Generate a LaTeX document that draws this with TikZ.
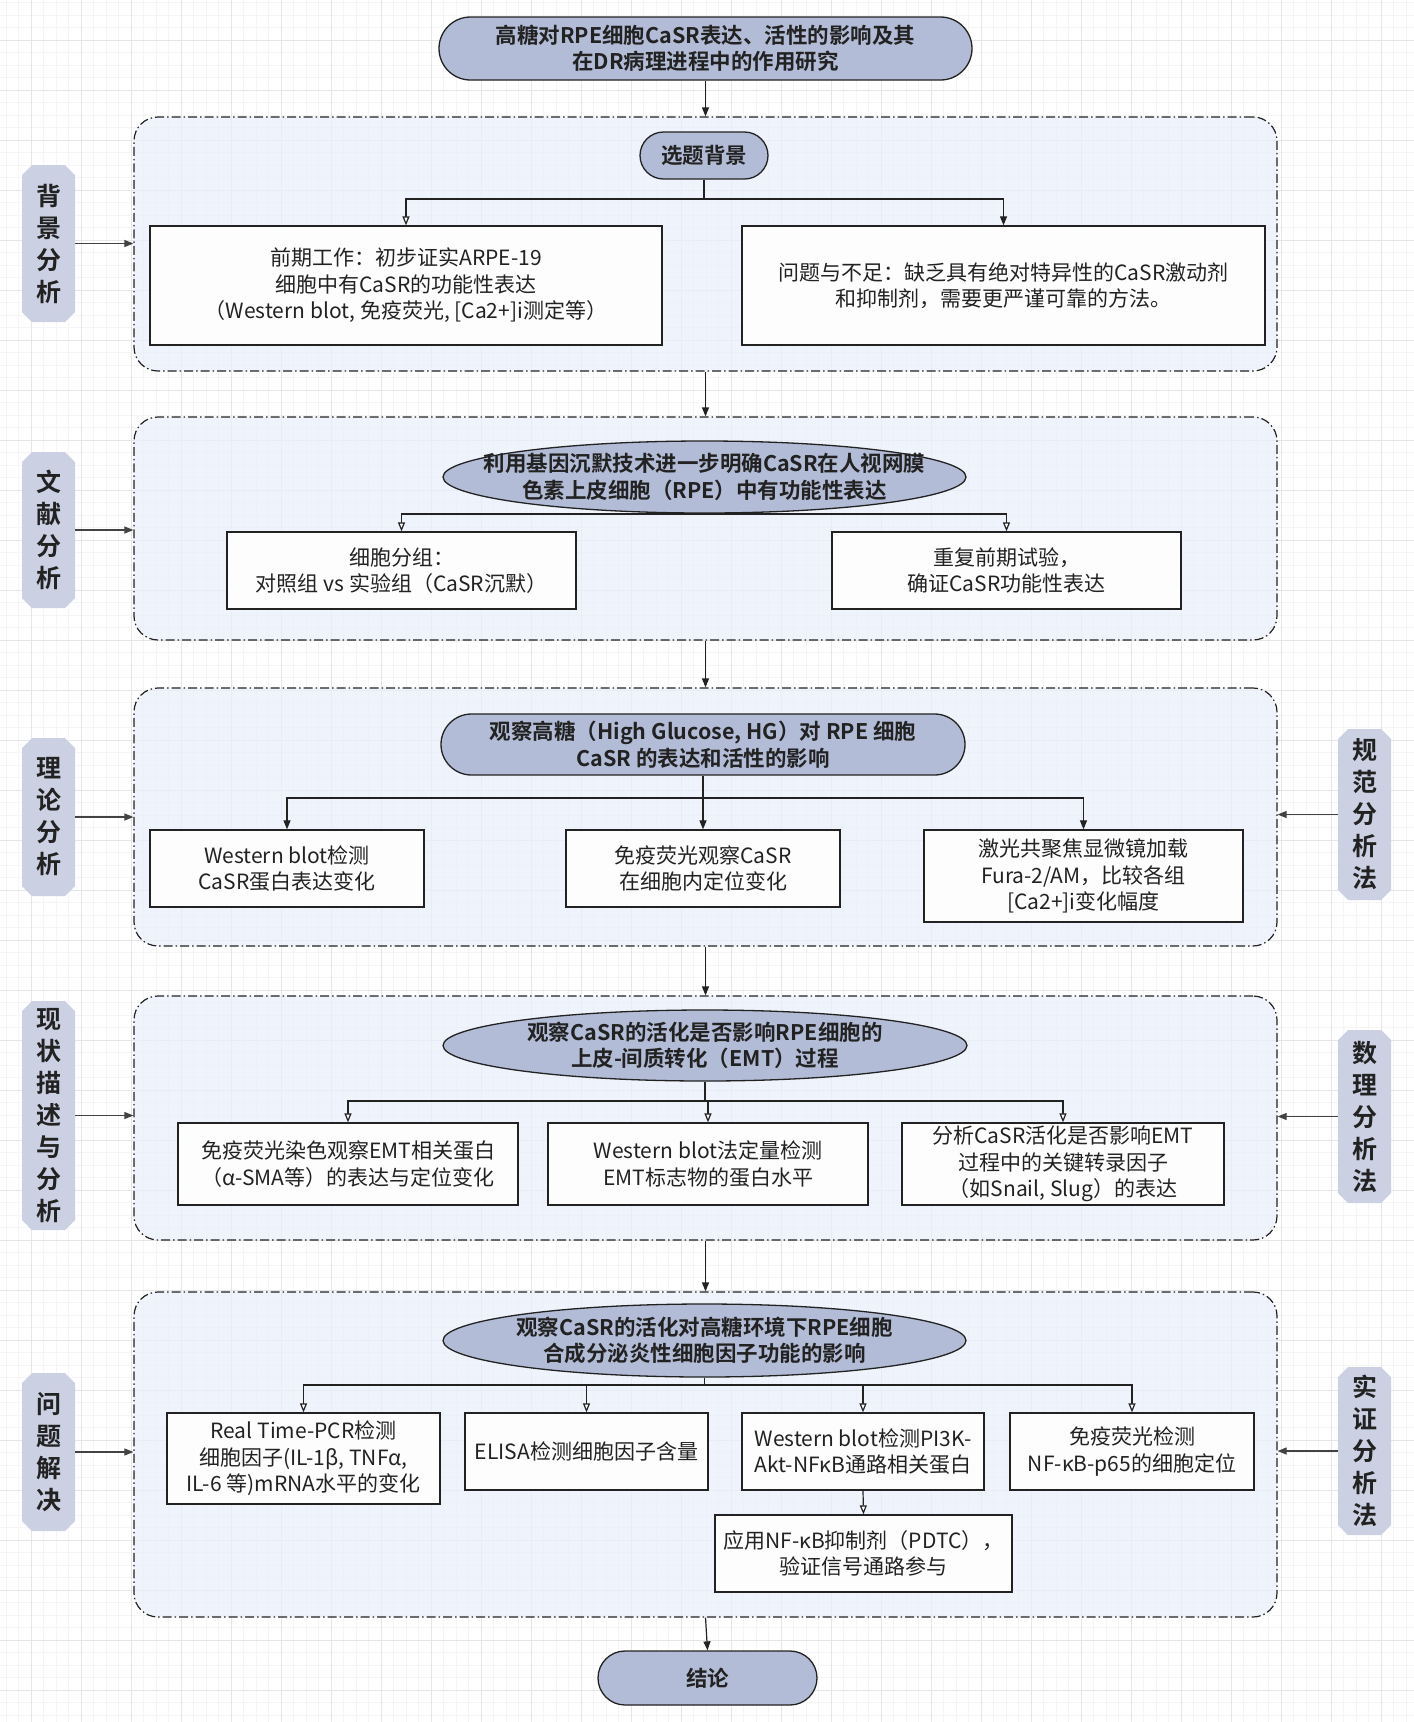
\documentclass[tikz,border=0pt]{standalone}
\usepackage{fontspec}
\setmainfont{Noto Sans CJK SC}[BoldFont={Noto Sans CJK SC Bold}]
\usetikzlibrary{shapes.misc,shapes.geometric,arrows.meta}
\definecolor{pillc}{HTML}{B3BCD6}
\definecolor{labc}{HTML}{CBD1E2}
\definecolor{secc}{HTML}{E9EFFC}
\definecolor{linec}{HTML}{222222}
\definecolor{gridmaj}{HTML}{E6E6E6}
\definecolor{gridmin}{HTML}{F5F5F5}
\begin{document}
\begin{tikzpicture}[x=1pt,y=-1pt,
  sec/.style={draw=linec, line width=1.2pt, dash pattern=on 9pt off 3pt on 1.5pt off 3pt,
     rounded corners=24pt, fill=secc, fill opacity=0.7, draw opacity=1, inner sep=0pt},
  box/.style={draw=linec, line width=1.3pt, fill=white, fill opacity=0.9, text opacity=1,
     align=center, inner sep=0pt, text=linec, font=\fontsize{21}{26.5}\selectfont},
  pill/.style={rounded rectangle, draw=linec, line width=1.3pt, fill=pillc, inner sep=0pt},
  ell/.style={ellipse, draw=linec, line width=1.3pt, fill=pillc, inner sep=0pt},
  ttl/.style={align=center, text=linec, inner sep=0pt, font=\bfseries\fontsize{21.5}{26.5}\selectfont},
  lab/.style={chamfered rectangle, chamfered rectangle xsep=5pt, chamfered rectangle ysep=5pt,
     fill=labc, draw=none, align=center, inner sep=0pt, text=linec,
     font=\bfseries\fontsize{25}{32}\selectfont, minimum width=53pt},
  arr/.style={draw=linec, line width=1.2pt, -{Triangle[length=9pt,width=7pt]}},
  oarr/.style={draw=linec, line width=1.2pt, -{Triangle[open,length=9pt,width=7pt,fill=white]}},
  larr/.style={draw=linec!85, line width=1.1pt, -{Triangle[length=9pt,width=7pt]}},
  ln/.style={draw=linec, line width=1.2pt}
]
\useasboundingbox (0,0) rectangle (1414,1722);
\fill[white] (0,0) rectangle (1414,1722);
% grid
\foreach \i in {0,...,113} {\draw[gridmin, line width=0.8pt] ({6+12.5*\i},0) -- ({6+12.5*\i},1722);}
\foreach \i in {0,...,138} {\draw[gridmin, line width=0.8pt] (0,{2.5+12.5*\i}) -- (1414,{2.5+12.5*\i});}
\foreach \i in {0,...,27} {\draw[gridmaj, line width=1pt] ({31+50*\i},0) -- ({31+50*\i},1722);}
\foreach \i in {0,...,33} {\draw[gridmaj, line width=1pt] (0,{40+50*\i}) -- (1414,{40+50*\i});}

% sections
\node[sec, minimum width=1143pt, minimum height=254pt] (s1) at (705.5,244) {};
\node[sec, minimum width=1143pt, minimum height=223pt] (s2) at (705.5,528.5) {};
\node[sec, minimum width=1143pt, minimum height=258pt] (s3) at (705.5,817) {};
\node[sec, minimum width=1143pt, minimum height=244pt] (s4) at (705.5,1118) {};
\node[sec, minimum width=1143pt, minimum height=325pt] (s5) at (705.5,1454.5) {};

% title
\node[pill, minimum width=533pt, minimum height=63pt] (t) at (705.5,48.5) {};
\node[ttl] (tt) at (t) {高糖对RPE细胞CaSR表达、活性的影响及其\\在DR病理进程中的作用研究};

% section 1
\node[pill, minimum width=128pt, minimum height=47pt] (p1) at (704,155.5) {};
\node[ttl] (p1t) at (p1) {选题背景};
\node[box, minimum width=512pt, minimum height=119pt] (b11) at (406,285.5)
  {前期工作：初步证实ARPE-19\\细胞中有CaSR的功能性表达\\（Western blot, 免疫荧光, {[}Ca2+{]}i测定等）};
\node[box, minimum width=523pt, minimum height=119pt] (b12) at (1003.5,285.5)
  {问题与不足：缺乏具有绝对特异性的CaSR激动剂\\和抑制剂，需要更严谨可靠的方法。};
\coordinate (j1) at (704,199);
\draw[ln] (p1.south) -- (j1);
\draw[oarr] (j1) -| (b11.north);
\draw[arr] (j1) -| (b12.north);

% section 2
\node[ell, minimum width=523pt, minimum height=72pt] (e2) at (704.5,477) {};
\node[ttl] (e2t) at (e2) {利用基因沉默技术进一步明确CaSR在人视网膜\\色素上皮细胞（RPE）中有功能性表达};
\node[box, minimum width=349pt, minimum height=77pt] (b21) at (401.5,570.5) {细胞分组：\\对照组 vs 实验组（CaSR沉默）};
\node[box, minimum width=349pt, minimum height=77pt] (b22) at (1006.5,570.5) {重复前期试验，\\确证CaSR功能性表达};
\coordinate (j2) at (704.5,514);
\draw[ln] (e2.south) -- (j2);
\draw[oarr] (j2) -| (b21.north);
\draw[oarr] (j2) -| (b22.north);

% section 3
\node[pill, minimum width=524pt, minimum height=61pt] (p3) at (703,744.5) {};
\node[ttl] (p3t) at (p3) {观察高糖（High Glucose, HG）对 RPE 细胞\\CaSR 的表达和活性的影响};
\node[box, minimum width=274pt, minimum height=77pt] (b31) at (287,868.5) {Western blot检测\\CaSR蛋白表达变化};
\node[box, minimum width=274pt, minimum height=77pt] (b32) at (703,868.5) {免疫荧光观察CaSR\\在细胞内定位变化};
\node[box, minimum width=319pt, minimum height=92pt] (b33) at (1083.5,876) {激光共聚焦显微镜加载\\Fura-2/AM，比较各组\\{[}Ca2+{]}i变化幅度};
\coordinate (j3) at (703,798);
\draw[arr] (p3.south) -- (b32.north);
\draw[arr] (j3) -| (b31.north);
\draw[arr] (j3) -| (b33.north);

% section 4
\node[ell, minimum width=524pt, minimum height=71pt] (e4) at (705,1045.5) {};
\node[ttl] (e4t) at (e4) {观察CaSR的活化是否影响RPE细胞的\\上皮-间质转化（EMT）过程};
\node[box, minimum width=340pt, minimum height=82pt] (b41) at (348,1164) {免疫荧光染色观察EMT相关蛋白\\（α-SMA等）的表达与定位变化};
\node[box, minimum width=320pt, minimum height=82pt] (b42) at (708,1164) {Western blot法定量检测\\EMT标志物的蛋白水平};
\node[box, minimum width=322pt, minimum height=82pt] (b43) at (1063,1164) {分析CaSR活化是否影响EMT\\过程中的关键转录因子\\（如Snail, Slug）的表达};
\coordinate (j4) at (708,1101);
\draw[ln] (e4.south) -- (e4.south |- j4);
\draw[oarr] (j4) -- (b42.north);
\draw[oarr] (e4.south |- j4) -| (b41.north);
\draw[oarr] (e4.south |- j4) -| (b43.north);

% section 5
\node[ell, minimum width=523pt, minimum height=73pt] (e5) at (704.5,1340.5) {};
\node[ttl] (e5t) at (e5) {观察CaSR的活化对高糖环境下RPE细胞\\合成分泌炎性细胞因子功能的影响};
\node[box, minimum width=273pt, minimum height=91pt] (b51) at (303.5,1458.5) {Real Time-PCR检测\\细胞因子(IL-1β, TNFα,\\IL-6 等)mRNA水平的变化};
\node[box, minimum width=243pt, minimum height=77pt] (b52) at (586.5,1451.5) {ELISA检测细胞因子含量};
\node[box, minimum width=242pt, minimum height=77pt] (b53) at (863,1451.5) {Western blot检测PI3K-\\Akt-NFκB通路相关蛋白};
\node[box, minimum width=244pt, minimum height=77pt] (b54) at (1132,1451.5) {免疫荧光检测\\NF-κB-p65的细胞定位};
\node[box, minimum width=297pt, minimum height=77pt] (b55) at (863.5,1553.5) {应用NF-κB抑制剂（PDTC），\\验证信号通路参与};
\coordinate (j5) at (704.5,1385);
\draw[ln] (e5.south) -- (j5);
\draw[oarr] (j5) -| (b51.north);
\draw[oarr] (j5) -| (b52.north);
\draw[oarr] (j5) -| (b53.north);
\draw[oarr] (j5) -| (b54.north);
\draw[oarr] (b53.south) -- (b55.north);

% end
\node[pill, minimum width=219pt, minimum height=54pt] (end) at (707.5,1678) {};
\node[ttl] (endt) at (end) {结论};

% main flow
\draw[arr] (t.south) -- (s1.north);
\draw[arr] (s1.south) -- (s2.north);
\draw[arr] (s2.south) -- (s3.north);
\draw[arr] (s3.south) -- (s4.north);
\draw[arr] (s4.south) -- (s5.north);
\draw[arr] (s5.south) -- (end.north);

% left labels
\node[lab, minimum height=157pt] (l1) at (48.5,243.5) {背\\景\\分\\析};
\node[lab, minimum height=156pt] (l2) at (48.5,530) {文\\献\\分\\析};
\node[lab, minimum height=158pt] (l3) at (48.5,817) {理\\论\\分\\析};
\node[lab, minimum height=229pt] (l4) at (48.5,1115.5) {现\\状\\描\\述\\与\\分\\析};
\node[lab, minimum height=158pt] (l5) at (48.5,1452) {问\\题\\解\\决};
\draw[larr] (l1.east) -- (l1.east -| s1.west);
\draw[larr] (l2.east) -- (l2.east -| s2.west);
\draw[larr] (l3.east) -- (l3.east -| s3.west);
\draw[larr] (l4.east) -- (l4.east -| s4.west);
\draw[larr] (l5.east) -- (l5.east -| s5.west);

% right labels
\node[lab, minimum height=171pt] (r3) at (1364.5,814.5) {规\\范\\分\\析\\法};
\node[lab, minimum height=173pt] (r4) at (1364.5,1116.5) {数\\理\\分\\析\\法};
\node[lab, minimum height=168pt] (r5) at (1364.5,1451) {实\\证\\分\\析\\法};
\draw[larr] (r3.west) -- (r3.west -| s3.east);
\draw[larr] (r4.west) -- (r4.west -| s4.east);
\draw[larr] (r5.west) -- (r5.west -| s5.east);
\end{tikzpicture}
\end{document}
